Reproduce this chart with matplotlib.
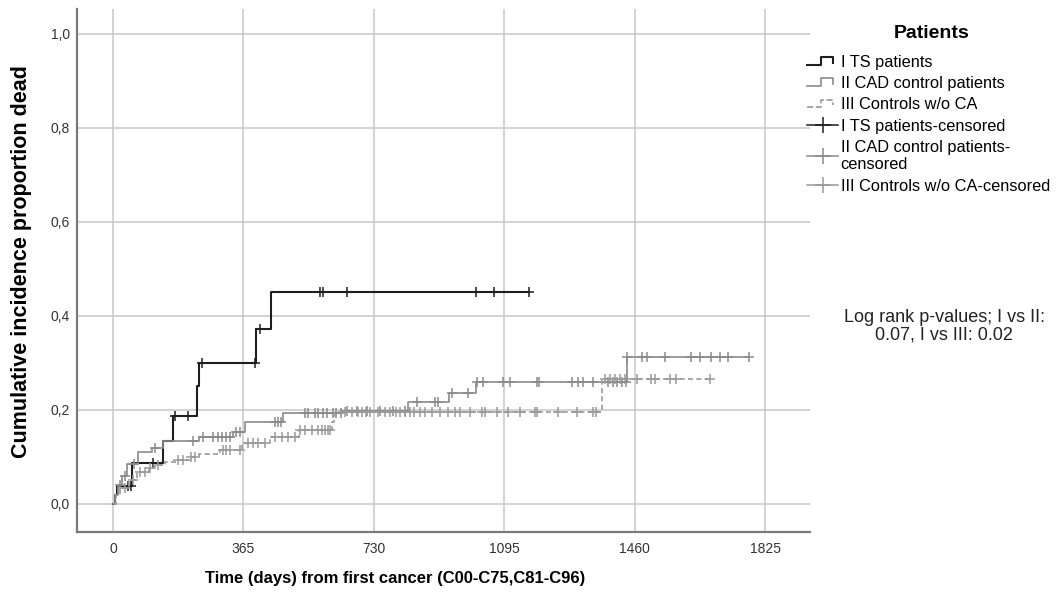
import numpy as np
import matplotlib
matplotlib.use("Agg")
import matplotlib.pyplot as plt
from matplotlib.lines import Line2D
from matplotlib.legend_handler import HandlerBase

plt.rcParams['font.family'] = ['Liberation Sans', 'DejaVu Sans']

# step functions (days, cumulative incidence after the step)
ts_t = [0, 5, 11, 53, 140, 168, 236, 240, 400, 442, 1163]
ts_y = [0, 0.019, 0.038, 0.087, 0.134, 0.187, 0.25, 0.30, 0.372, 0.451, 0.451]
ts_cens = [42, 50, 112, 173, 210, 249, 398, 411, 579, 587, 654, 1015, 1065, 1163]

cad_t = [0, 5, 15, 25, 40, 70, 110, 140, 240, 335, 370, 475, 640, 825, 940, 1015, 1437, 1780]
cad_y = [0, 0.02, 0.04, 0.06, 0.085, 0.11, 0.12, 0.134, 0.143, 0.153, 0.175, 0.193,
         0.198, 0.217, 0.236, 0.26, 0.313, 0.313]
cad_cens = [20, 34, 60, 117, 224, 252, 280, 293, 305, 316, 327, 344, 355, 453, 461, 470,
            537, 545, 565, 573, 587, 598, 615, 623, 638, 654, 682, 710, 746, 783, 816,
            850, 900, 908, 947, 992, 1017, 1034, 1090, 1110, 1185, 1191, 1283, 1300, 1314,
            1342, 1386, 1400, 1411, 1423, 1434, 1439, 1479, 1493, 1543, 1616, 1641, 1674,
            1697, 1719, 1780]

ctl_t = [0, 8, 20, 45, 67, 100, 117, 145, 180, 215, 240, 300, 360, 440, 520, 612, 618,
         1367, 1669]
ctl_y = [0, 0.02, 0.035, 0.051, 0.068, 0.077, 0.083, 0.09, 0.094, 0.1, 0.106, 0.115, 0.13,
         0.143, 0.157, 0.175, 0.196, 0.266, 0.266]
ctl_cens = [34, 56, 75, 89, 103, 126, 182, 196, 218, 229, 307, 316, 327, 355, 377, 391, 405,
            425, 453, 472, 489, 509, 523, 537, 556, 573, 584, 593, 601, 607, 648, 668, 685,
            696, 707, 718, 741, 760, 774, 791, 802, 816, 830, 841, 858, 872, 892, 914, 936,
            956, 970, 998, 1031, 1040, 1073, 1104, 1138, 1180, 1185, 1244, 1297, 1342, 1350,
            1375, 1389, 1403, 1417, 1431, 1467, 1506, 1515, 1557, 1576, 1669]

x_ticks = [0, 365, 730, 1095, 1460, 1825]
y_ticks = [0.0, 0.2, 0.4, 0.6, 0.8, 1.0]
y_labels = ["0,0", "0,2", "0,4", "0,6", "0,8", "1,0"]

groups = [
    ("I TS patients", ts_t, ts_y, ts_cens, "#1e1e1e", "-", 1.5),
    ("II CAD control patients", cad_t, cad_y, cad_cens, "#8a8a8a", "-", 1.2),
    ("III Controls w/o CA", ctl_t, ctl_y, ctl_cens, "#9a9a9a", (0, (3, 2)), 1.2),
]


def step_value(t, y, x):
    idx = np.searchsorted(t, x, side='right') - 1
    return np.array(y)[idx]


class StepHandler(HandlerBase):
    # little "step" glyph like the SPSS legend
    def create_artists(self, legend, orig_handle, xdescent, ydescent, width, height,
                       fontsize, trans):
        xs = np.array([0, 0.45, 0.45, 0.85, 0.85]) * width - xdescent
        ys = np.array([0.2, 0.2, 0.85, 0.85, 0.35]) * height - ydescent
        ln = Line2D(xs, ys, color=orig_handle.get_color(), lw=orig_handle.get_linewidth(),
                    linestyle=orig_handle.get_linestyle())
        ln.set_transform(trans)
        return [ln]


fig = plt.figure(figsize=(10.56, 5.98), dpi=100)
ax = fig.add_axes([0.0729, 0.1104, 0.6946, 0.8746])

step_handles = []
cens_handles = []
for name, t, y, cens, col, ls, lw in groups:
    h, = ax.step(t, y, where='post', color=col, linestyle=ls, lw=lw)
    step_handles.append(h)
    cy = step_value(t, y, cens)
    ax.plot(cens, cy, linestyle='none', marker='+', markersize=7.5,
            markeredgewidth=1.1, color=col)
    cens_handles.append(Line2D([], [], color=col, lw=1.1, marker='+', markersize=12,
                               markeredgewidth=1.1))

ax.set_xlim(-100.6, 1951)
ax.set_ylim(-0.0596, 1.053)
ax.set_xticks(x_ticks)
ax.set_yticks(y_ticks)
ax.set_yticklabels(y_labels)
ax.tick_params(axis='x', length=0, labelsize=10, colors="#333333", pad=7)
ax.tick_params(axis='y', length=0, labelsize=10, colors="#333333", pad=5)
ax.grid(True, color="#c8c8c8", lw=1.1)
ax.set_axisbelow(True)
for s in ["top", "right"]:
    ax.spines[s].set_visible(False)
for s in ["left", "bottom"]:
    ax.spines[s].set_color("#7a7a7a")
    ax.spines[s].set_linewidth(1.6)

fig.text(22 / 1056, 1 - 262 / 598, "Cumulative incidence proportion dead", rotation=90,
         ha='center', va='center', fontsize=15.5, fontweight='bold')
fig.text(395 / 1056, 1 - 578 / 598, "Time (days) from first cancer (C00-C75,C81-C96)",
         ha='center', va='center', fontsize=12, fontweight='bold')

labels = ["I TS patients", "II CAD control patients", "III Controls w/o CA",
          "I TS patients-censored", "II CAD control patients-\ncensored",
          "III Controls w/o CA-censored"]
hmap = {h: StepHandler() for h in step_handles}
fig.text(932 / 1056, 1 - 33 / 598, "Patients", ha='center', va='center',
         fontsize=14, fontweight='bold')
leg = fig.legend(step_handles + cens_handles, labels, loc='upper left',
                 bbox_to_anchor=(807 / 1056, 1 - 55 / 598), frameon=False,
                 handler_map=hmap, fontsize=11.8,
                 handlelength=1.9, handletextpad=0.15, labelspacing=0.38,
                 borderpad=0, borderaxespad=0)

fig.text(944 / 1056, 1 - 326 / 598, "Log rank p-values; I vs II:\n0.07, I vs III: 0.02",
         ha='center', va='center', fontsize=13, color="#222222", linespacing=1.05)

fig.savefig("out.png", dpi=100)
